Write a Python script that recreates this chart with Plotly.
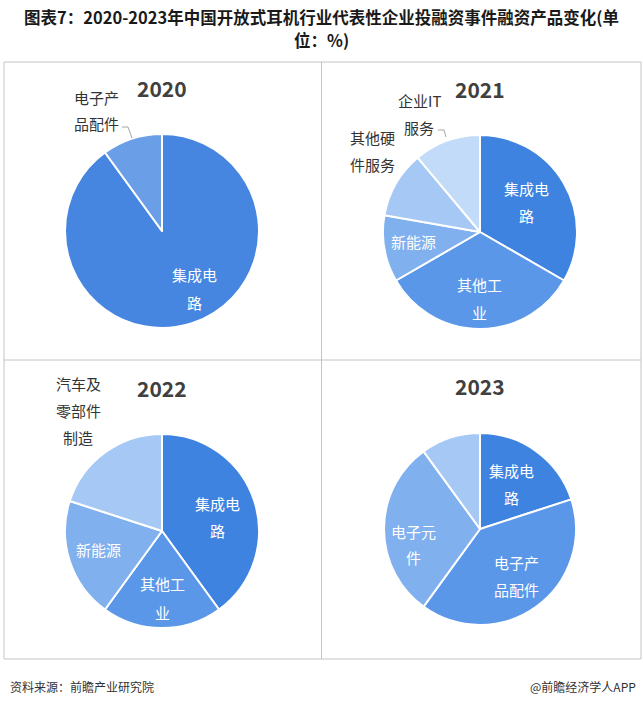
import plotly.graph_objects as go

# ---------------- data ----------------
years = ["2020", "2021", "2022", "2023"]

labels_2020 = ["集成电路", "电子产品配件"]
values_2020 = [90, 10]

labels_2021 = ["集成电路", "其他工业", "新能源", "其他硬件服务", "企业IT服务"]
values_2021 = [33.3, 33.3, 11.1, 11.1, 11.1]

labels_2022 = ["集成电路", "其他工业", "新能源", "汽车及零部件制造"]
values_2022 = [40, 20, 20, 20]

labels_2023 = ["集成电路", "电子产品配件", "电子元件", "其他"]
values_2023 = [20, 40, 30, 10]

title_lines = ["图表7：2020-2023年中国开放式耳机行业代表性企业投融资事件融资产品变化(单", "位：%)"]
source_text = "资料来源：前瞻产业研究院"
brand_text = "@前瞻经济学人APP"

# label line wrapping (as shown in the chart)
wrapped = {
    "集成电路": ["集成电", "路"],
    "电子产品配件": ["电子产", "品配件"],
    "其他工业": ["其他工", "业"],
    "新能源": ["新能源"],
    "其他硬件服务": ["其他硬", "件服务"],
    "企业IT服务": ["企业IT", "服务"],
    "汽车及零部件制造": ["汽车及", "零部件", "制造"],
    "电子元件": ["电子元", "件"],
    "其他": [],
}

# ---------------- layout / style ----------------
W, H = 643, 706
DARK = "#3f83e0"
C2 = "#5b97e8"
C3 = "#80b0ee"
C4 = "#a5c8f5"
C5 = "#c2dbf8"

colors = {
    "2020": ["#4686e0", "#6a9fe8"],
    "2021": [DARK, C2, C3, C4, C5],
    "2022": [DARK, C2, C3, C4],
    "2023": [DARK, C2, C3, C4],
}

# pie centres and radii in pixels
pie_geo = {
    "2020": (162, 231, 97),
    "2021": (480, 232, 97),
    "2022": (162, 531, 97),
    "2023": (480, 529, 96),
}

# label placement: (x, y of first line, line gap, inside?)
label_pos = {
    "2020": {"集成电路": (195, 275, 27, True), "电子产品配件": (96, 97, 26, False)},
    "2021": {"集成电路": (526, 188, 27, True), "其他工业": (479, 284, 28, True),
             "新能源": (413, 242, 27, True), "其他硬件服务": (372, 137, 28, False),
             "企业IT服务": (419, 100, 27, False)},
    "2022": {"集成电路": (217, 504, 26, True), "其他工业": (162, 583, 29, True),
             "新能源": (98, 549, 27, True), "汽车及零部件制造": (78, 383, 27, False)},
    "2023": {"集成电路": (511, 470, 27, True), "电子产品配件": (516, 562, 27, True),
             "电子元件": (413, 531, 26, True)},
}

FONT = "Noto Sans CJK SC"


def px(x):
    return x / W


def py(y):
    return 1 - y / H


data_map = {
    "2020": (labels_2020, values_2020),
    "2021": (labels_2021, values_2021),
    "2022": (labels_2022, values_2022),
    "2023": (labels_2023, values_2023),
}

fig = go.Figure()
annotations = []
shapes = []

for yr in years:
    labs, vals = data_map[yr]
    cx, cy, r = pie_geo[yr]
    fig.add_trace(go.Pie(
        labels=labs, values=vals,
        sort=False, direction="clockwise", rotation=0,
        marker=dict(colors=colors[yr], line=dict(color="white", width=2)),
        textinfo="none", hoverinfo="label+value",
        showlegend=False,
        domain=dict(x=[px(cx - r), px(cx + r)], y=[py(cy + r), py(cy - r)]),
    ))
    # year heading
    annotations.append(dict(
        x=px(cx), y=py(cy - 143), xref="paper", yref="paper",
        text="<b>%s</b>" % yr, showarrow=False,
        font=dict(family=FONT, size=21, color="#404040"),
        xanchor="center", yanchor="middle",
    ))
    for lab in labs:
        if lab not in label_pos[yr]:
            continue
        lx, ly, gap, inside = label_pos[yr][lab]
        for i, line in enumerate(wrapped[lab]):
            annotations.append(dict(
                x=px(lx), y=py(ly + i * gap), xref="paper", yref="paper",
                text=line, showarrow=False,
                font=dict(family=FONT, size=15,
                          color="white" if inside else "#333333"),
                xanchor="center", yanchor="middle",
            ))

# title (two lines)
for i, tl in enumerate(title_lines):
    annotations.append(dict(
        x=0.5, y=py(17 + i * 23), xref="paper", yref="paper",
        text="<b>%s</b>" % tl, showarrow=False,
        font=dict(family=FONT, size=16.5, color="#1a1a1a"),
        xanchor="center", yanchor="middle",
        borderpad=0,
    ))
# footer
annotations.append(dict(
    x=px(8), y=py(686), xref="paper", yref="paper", text=source_text,
    showarrow=False, font=dict(family=FONT, size=12, color="#333333"),
    xanchor="left", yanchor="middle",
))
annotations.append(dict(
    x=px(638), y=py(686), xref="paper", yref="paper", text=brand_text,
    showarrow=False, font=dict(family=FONT, size=12, color="#333333"),
    xanchor="right", yanchor="middle",
))

# panel frame
line_style = dict(color="#c4c4c4", width=1)
shapes.append(dict(type="rect", xref="paper", yref="paper",
                   x0=px(4), x1=px(641), y0=py(659), y1=py(62), line=line_style))
shapes.append(dict(type="line", xref="paper", yref="paper",
                   x0=px(321.5), x1=px(321.5), y0=py(659), y1=py(62), line=line_style))
shapes.append(dict(type="line", xref="paper", yref="paper",
                   x0=px(4), x1=px(641), y0=py(360), y1=py(360), line=line_style))

# leader lines for outside labels
leader = dict(color="#a6a6a6", width=1)
for pts in ([(122, 127), (128, 127), (132, 138)], [(438, 130), (444, 130), (446, 137)]):
    path = "M %f,%f " % (px(pts[0][0]), py(pts[0][1]))
    path += " ".join("L %f,%f" % (px(a), py(b)) for a, b in pts[1:])
    shapes.append(dict(type="path", xref="paper", yref="paper", path=path, line=leader))

fig.update_layout(
    width=W, height=H,
    margin=dict(l=0, r=0, t=0, b=0),
    paper_bgcolor="white", plot_bgcolor="white",
    annotations=annotations, shapes=shapes,
    font=dict(family=FONT),
)

fig.write_html(
    "out.html",
    config={"displayModeBar": False},
    post_script="document.body.style.margin='0';document.body.style.overflow='hidden';",
)
